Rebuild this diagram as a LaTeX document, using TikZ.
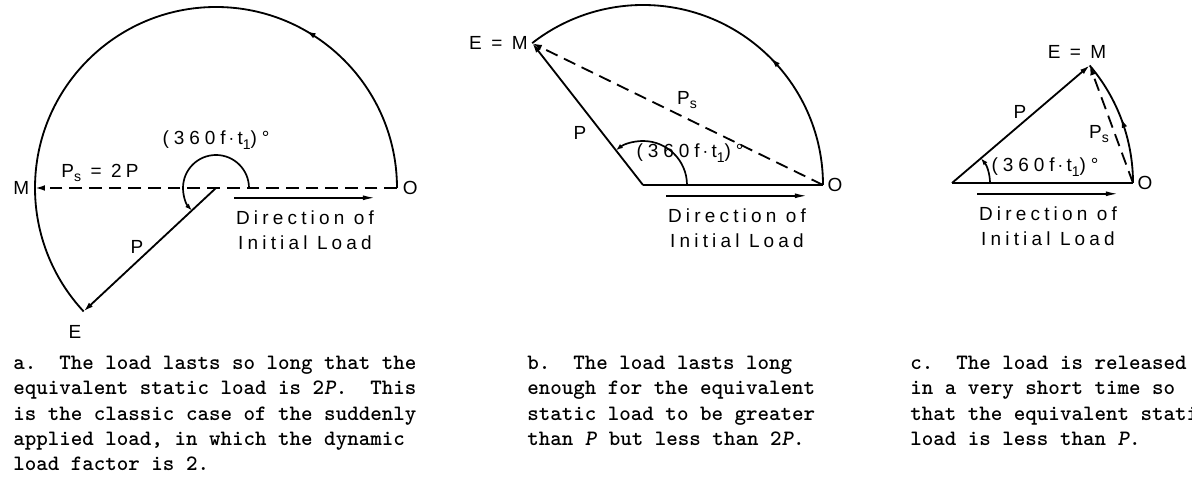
\documentclass[tikz,border=0pt]{standalone}
\usepackage{fontspec}
\usepackage{tikz}
\usetikzlibrary{positioning,arrows.meta,decorations.markings}
\newfontfamily\lblfont{Liberation Sans}[LetterSpace=22]
\newcommand{\sub}[1]{\raisebox{-0.45ex}{\fontsize{10}{10}\selectfont #1}}
\newcommand{\phase}{\addfontfeature{LetterSpace=26}(360f\,$\cdot$\,t\sub{1})°}

\begin{document}
\begin{tikzpicture}[x=0.025cm, y=0.025cm,
  every node/.style={font=\lblfont\fontsize{13.5}{17.5}\selectfont, inner sep=1pt},
  vec/.style={line width=1.3pt, -{Latex[length=7pt,width=4pt]}},
  load/.style={vec, dash pattern=on 9pt off 5pt},
  dirvec/.style={line width=1.2pt, -{Latex[length=9pt,width=3.5pt]}},
  angarc/.style={line width=1.2pt, -{Latex[length=5pt,width=3.5pt]}},
  swing/.style={line width=1.3pt, decoration={markings,
      mark=at position #1 with {\arrow{Latex[length=7pt,width=4pt]}}},
      postaction={decorate}},
  dirtext/.style={align=center},
  captext/.style={anchor=north west, align=left, inner sep=0pt,
              font=\ttfamily\bfseries\frenchspacing\fontsize{15.6}{18}\selectfont}
]
  \useasboundingbox (0,0) rectangle (1192,478);
  \clip (0,0) rectangle (1192,478);

  % a. load lasts long: Ps = 2P
  \coordinate (ca) at (216,290);
  \coordinate (Oa) at (397,290);
  \coordinate (Ma) at (35,290);
  \coordinate (Ea) at ([shift={(223:181)}]ca);
  \draw[swing=0.27] (Oa) arc[start angle=0, end angle=223, radius=181];
  \draw[load] (Oa) -- (Ma);
  \draw[vec] (ca) -- (Ea);
  \draw[angarc] ([shift={(0:33)}]ca) arc[start angle=0, end angle=223, radius=33];
  \node (lOa) [right=3pt of Oa] {O};
  \node (lMa) [left=3pt of Ma] {M};
  \node (lEa) at (75,146) {E};
  \node (lPa) at (137,231) {P};
  \node (lPsa) at (100,305) {P\sub{s} = 2P};
  \node (anga) at (216,338) {\phase};
  \node (dira) [dirtext] at (305,248) {Direction of\\Initial Load};
  \draw[dirvec] ([yshift=8pt]dira.north west) -- ([yshift=8pt]dira.north east);

  % b. Ps between P and 2P
  \coordinate (cb) at (643,293);
  \coordinate (Ob) at (823,293);
  \coordinate (EMb) at ([shift={(128:180)}]cb);
  \draw[swing=0.35] (Ob) arc[start angle=0, end angle=128, radius=180];
  \draw[line width=1.3pt] (cb) -- (Ob);
  \draw[load] (Ob) -- (EMb);
  \draw[vec] (cb) -- (EMb);
  \draw[angarc] ([shift={(0:44)}]cb) arc[start angle=0, end angle=128, radius=44];
  \node (lOb) [right=2pt of Ob] {O};
  \node (lEMb) [left=2pt of EMb] {E = M};
  \node (lPb) at (580,345) {P};
  \node (lPsb) at (687,378) {P\sub{s}};
  \node (angb) at (690,325) {\phase};
  \node (dirb) [dirtext] at (737,250) {Direction of\\Initial Load};
  \draw[dirvec] ([yshift=8pt]dirb.north west) -- ([yshift=8pt]dirb.north east);

  % c. short load: Ps less than P
  \coordinate (cc) at (952,295);
  \coordinate (Oc) at (1133,295);
  \coordinate (EMc) at ([shift={(40.5:181)}]cc);
  \draw[swing=0.52] (Oc) arc[start angle=0, end angle=40.5, radius=181];
  \draw[line width=1.3pt] (cc) -- (Oc);
  \draw[load] (Oc) -- (EMc);
  \draw[vec] (cc) -- (EMc);
  \draw[angarc] ([shift={(0:38)}]cc) arc[start angle=0, end angle=40.5, radius=38];
  \node (lOc) [right=2pt of Oc] {O};
  \node (lEMc) at (1077,426) {E = M};
  \node (lPc) at (1020,366) {P};
  \node (lPsc) at (1099,344) {P\sub{s}};
  \node (angc) at (1045,311) {\phase};
  \node (dirc) [dirtext] at (1048,252) {Direction of\\Initial Load};
  \draw[dirvec] ([yshift=8pt]dirc.north west) -- ([yshift=8pt]dirc.north east);

  % captions
  \node (capa) [captext] at (13,122) {a.~~The load lasts so long that the\\
    equivalent static load is 2\textit{P}.~~This\\
    is the classic case of the suddenly\\
    applied load, in which the dynamic\\
    load factor is 2.};
  \node (capb) [captext] at (527,122) {b.~~The load lasts long\\
    enough for the equivalent\\
    static load to be greater\\
    than \textit{P} but less than 2\textit{P}.};
  \node (capc) [captext] at (910,122) {c.~~The load is released\\
    in a very short time so\\
    that the equivalent static\\
    load is less than \textit{P}.};
\end{tikzpicture}
\end{document}
